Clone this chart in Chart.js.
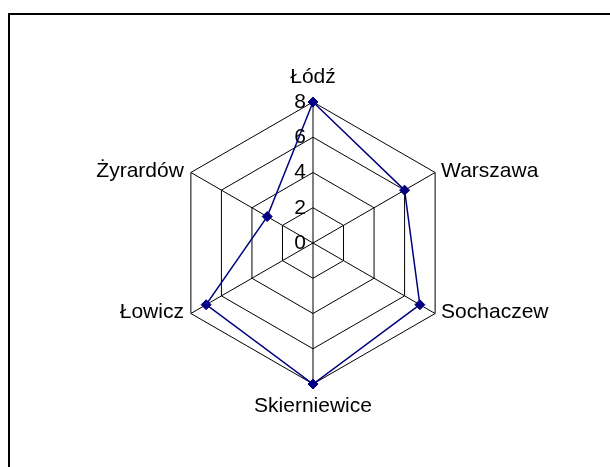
<!DOCTYPE html>
<html lang="pl">
<head>
<meta charset="utf-8">
<title>Radar</title>
<script src="https://cdn.jsdelivr.net/npm/chart.js"></script>
<style>
  html, body { margin: 0; padding: 0; background: #fff; }
  #wrap { position: relative; width: 610px; height: 467px; }
</style>
</head>
<body>
<div id="wrap"><canvas id="c" width="610" height="467"></canvas></div>
<script>
// ---- data ----
const categories = ['Łódź', 'Warszawa', 'Sochaczew', 'Skierniewice', 'Łowicz', 'Żyrardów'];
const values = [8, 6, 7, 8, 7, 3];
const tickValues = [0, 2, 4, 6, 8];

const FONT = '21px "Liberation Sans", Arial, sans-serif';

// frame + tick labels + category labels drawn next to the scale
const labelPlugin = {
  id: 'labels',
  beforeDraw(chart) {
    const ctx = chart.ctx;
    ctx.save();
    ctx.fillStyle = '#000';
    ctx.fillRect(8, 13, 602, 2);
    ctx.fillRect(8, 13, 2, 454);
    ctx.restore();
  },
  afterDatasetsDraw(chart) {
    const s = chart.scales.r;
    const ctx = chart.ctx;
    ctx.save();
    ctx.font = FONT;
    ctx.fillStyle = '#000';

    // tick labels to the left of the vertical axis
    ctx.textAlign = 'right';
    ctx.textBaseline = 'middle';
    tickValues.forEach(v => {
      const y = s.yCenter - s.getDistanceFromCenterForValue(v);
      ctx.fillText(String(v), s.xCenter - 7, y);
    });

    // category labels
    categories.forEach((name, i) => {
      const p = s.getPointPosition(i, s.drawingArea);
      if (i === 0) {
        ctx.textAlign = 'center'; ctx.textBaseline = 'alphabetic';
        ctx.fillText(name, p.x, p.y - 19);
      } else if (i === 3) {
        ctx.textAlign = 'center'; ctx.textBaseline = 'alphabetic';
        ctx.fillText(name, p.x, p.y + 28);
      } else if (p.x > s.xCenter) {
        ctx.textAlign = 'left'; ctx.textBaseline = 'middle';
        ctx.fillText(name, p.x + 6, p.y - 1);
      } else {
        ctx.textAlign = 'right'; ctx.textBaseline = 'middle';
        ctx.fillText(name, p.x - 7, p.y - 1);
      }
    });
    ctx.restore();
  }
};

new Chart(document.getElementById('c'), {
  type: 'radar',
  data: {
    labels: categories,
    datasets: [{
      data: values,
      borderColor: '#000080',
      borderWidth: 1.5,
      backgroundColor: '#000080',
      fill: false,
      pointStyle: 'rectRot',
      pointRadius: 5,
      pointBorderWidth: 1,
      pointBackgroundColor: '#000080',
      pointBorderColor: '#000080',
      tension: 0
    }]
  },
  options: {
    responsive: false,
    animation: false,
    layout: { padding: { left: 172, right: 156, top: 102, bottom: 83 } },
    plugins: { legend: { display: false }, tooltip: { enabled: false } },
    scales: {
      r: {
        min: 0,
        max: 8,
        ticks: { stepSize: 2, display: false },
        grid: { circular: false, color: '#000', lineWidth: 1 },
        angleLines: { display: true, color: '#000', lineWidth: 1 },
        pointLabels: { display: false }
      }
    }
  },
  plugins: [labelPlugin]
});
</script>
</body>
</html>
